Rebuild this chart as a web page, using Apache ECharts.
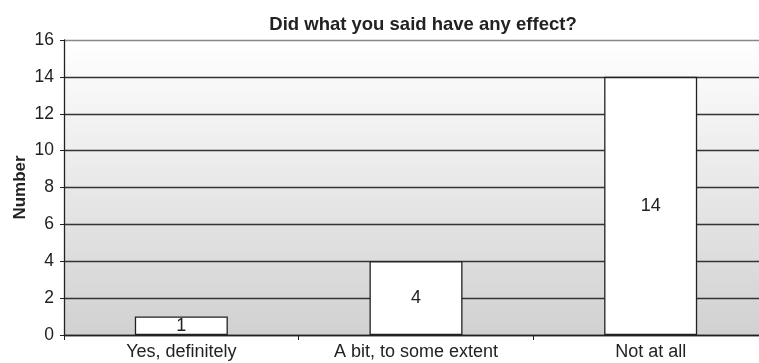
<!DOCTYPE html>
<html><head><meta charset="utf-8">
<script src="https://cdn.jsdelivr.net/npm/echarts@6/dist/echarts.min.js"></script>
<style>html,body{margin:0;padding:0;background:#fff}#c{width:759px;height:363px}</style>
</head><body><div id="c"></div>
<script>
var titleText = 'Did what you said have any effect?';
var yAxisName = 'Number';
var categories = ['Yes, definitely', 'A bit, to some extent', 'Not at all'];
var values = [1, 4, 14];
var yTicks = [0, 2, 4, 6, 8, 10, 12, 14, 16];

var chart = echarts.init(document.getElementById('c'), null, {renderer: 'canvas'});
var font = 'Liberation Sans, Arial, sans-serif';
chart.setOption({
  animation: false,
  title: {
    text: titleText, left: 418, top: 10, textAlign: 'center',
    textStyle: {fontFamily: font, fontWeight: 'bold', fontSize: 18.5, color: '#222'}
  },
  grid: {
    left: 64, width: 704, top: 40, height: 295, show: true, borderWidth: 0,
    containLabel: false, outerBoundsMode: 'none',
    backgroundColor: new echarts.graphic.LinearGradient(0, 0, 0, 1, [
      {offset: 0, color: '#ffffff'}, {offset: 1, color: '#d1d1d1'}
    ])
  },
  xAxis: {
    type: 'category', data: categories,
    axisLine: {lineStyle: {color: '#222', width: 1.3}},
    axisTick: {show: true, length: 5, lineStyle: {color: '#222'}},
    axisLabel: {fontFamily: font, fontSize: 18, color: '#222', margin: 8}
  },
  yAxis: {
    type: 'value', min: yTicks[0], max: yTicks[yTicks.length - 1], interval: 2,
    name: yAxisName, nameLocation: 'middle', nameGap: 35, nameRotate: 90, nameMoveOverlap: false,
    nameTextStyle: {fontFamily: font, fontWeight: 'bold', fontSize: 17, color: '#222'},
    axisLine: {show: true, lineStyle: {color: '#222', width: 1.3}},
    axisTick: {show: true, length: 4, lineStyle: {color: '#222'}},
    axisLabel: {fontFamily: font, fontSize: 17.5, color: '#222', margin: 10},
    splitLine: {lineStyle: {color: ['#333', '#333', '#333', '#333', '#333', '#333', '#333', '#333', '#888'], width: 1.3}}
  },
  series: [{
    type: 'bar', data: values, barWidth: 93,
    itemStyle: {color: '#ffffff', borderColor: '#222', borderWidth: 1.3},
    label: {show: true, position: 'inside', fontFamily: font, fontSize: 18, color: '#222'}
  }]
});
</script></body></html>
